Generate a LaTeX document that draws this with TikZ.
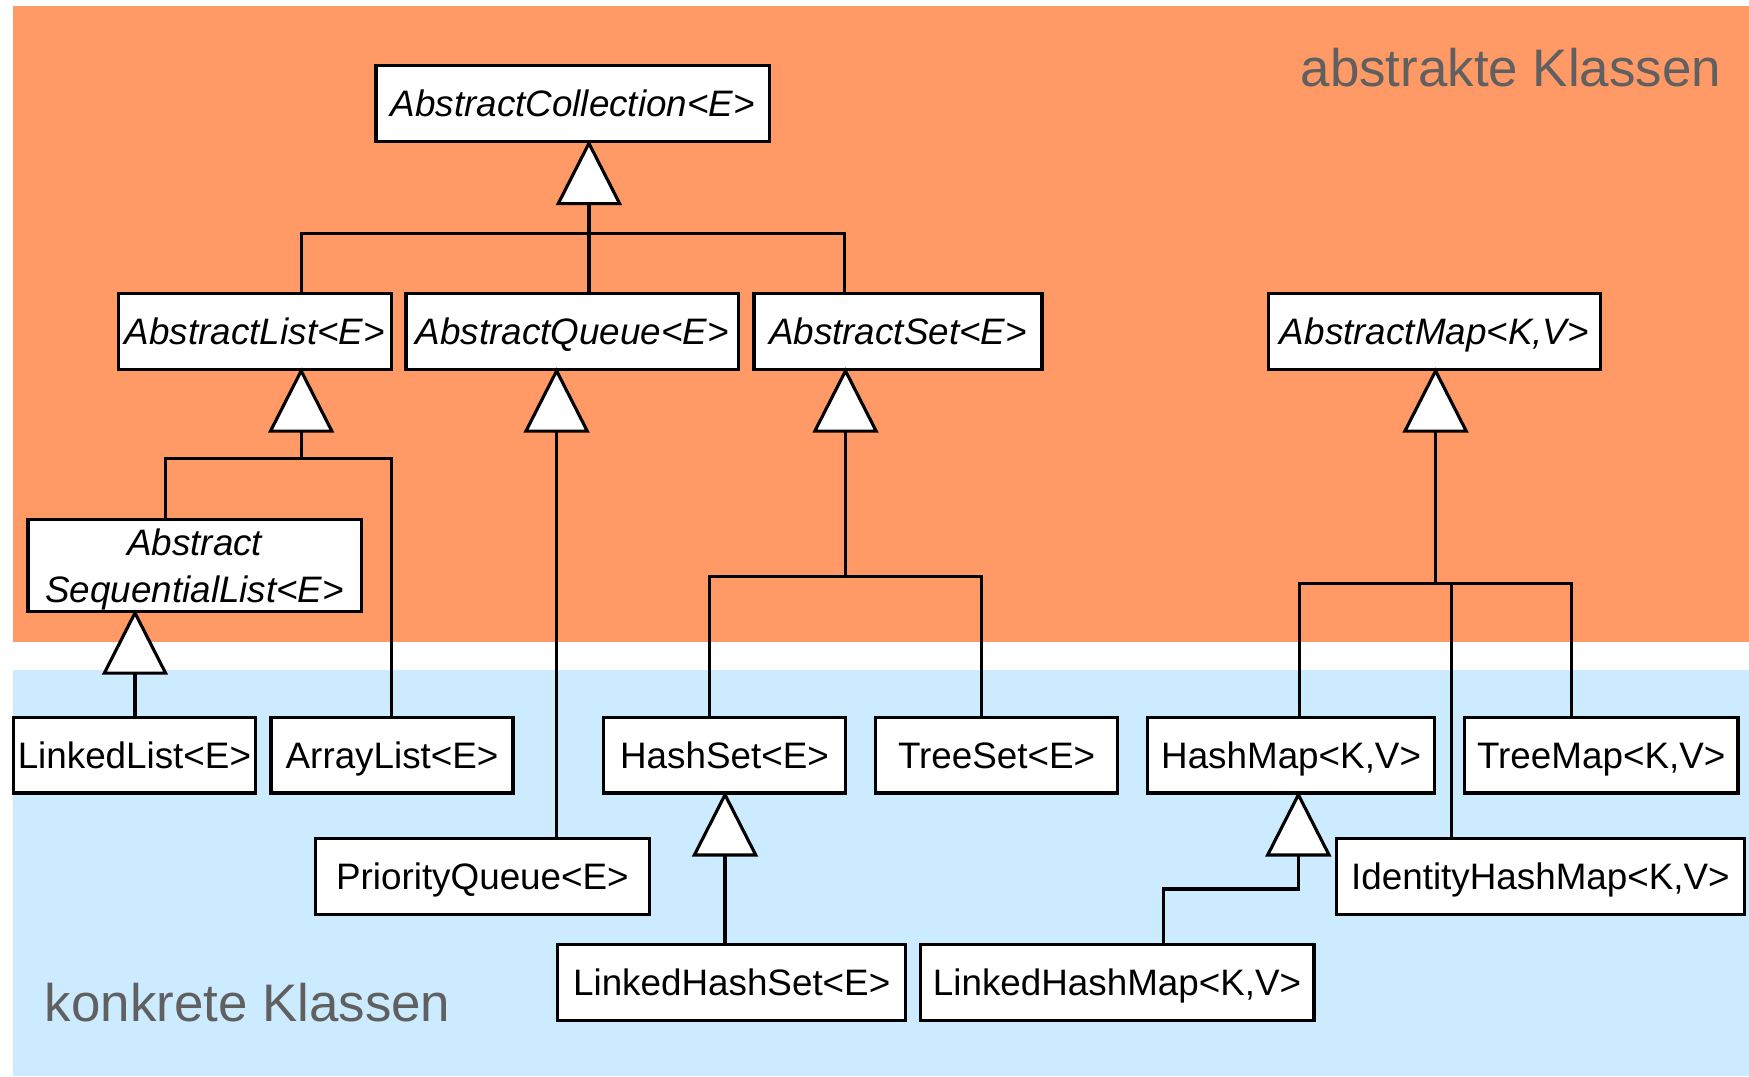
\documentclass[tikz,border=0pt]{standalone}
\usepackage{fontspec}
\setmainfont{Liberation Sans}
\definecolor{abscol}{RGB}{255,153,102}
\definecolor{concol}{RGB}{204,235,255}
\definecolor{labcol}{RGB}{96,96,96}
\tikzset{
  clsbox/.style={draw=black, line width=3pt, fill=white, inner sep=0pt,
    minimum height=68pt, font=\fontsize{33}{42}\selectfont},
  cls/.style={clsbox, text height=23.6pt, text depth=0pt},
  acls/.style={cls, font=\fontsize{33}{42}\selectfont\itshape},
  conn/.style={draw=black, line width=2.8pt, line join=miter},
  tri/.style={draw=black, fill=white, line width=2.8pt, line join=miter},
  region/.style={font=\fontsize{47.4}{56}\selectfont, text=labcol, inner sep=0pt}
}
\newcommand\inhtri[1]{\draw[tri] (#1) -- ++(-27.5,54) -- ++(55,0) -- cycle;}
\begin{document}
\begin{tikzpicture}[x=1pt,y=-1pt]
\useasboundingbox (0,0) rectangle (1568,965);
\fill[white] (0,0) rectangle (1568,965);
\fill[abscol] (12,5) rectangle (1568,576);
\fill[concol] (12,601) rectangle (1568,965);

\node[region, anchor=base east] (labA) at (1543,78) {abstrakte Klassen};
\node[region, anchor=base west] (labK) at (40,916) {konkrete Klassen};

% nodes
\node[acls, minimum width=353pt] (ac) at (513.5,93) {AbstractCollection<E>};
\node[acls, minimum width=245pt] (al) at (228.5,297) {AbstractList<E>};
\node[acls, minimum width=298pt] (aq) at (513,297) {AbstractQueue<E>};
\node[acls, minimum width=258pt] (as) at (805,297) {AbstractSet<E>};
\node[acls, minimum width=298pt] (am) at (1286,297) {AbstractMap<K,V>};
\node[clsbox, font=\fontsize{33}{42}\selectfont\itshape, minimum width=299pt, minimum height=82pt, align=center, text height=66pt, text depth=0pt] (asl) at (174.5,507) {Abstract\\SequentialList<E>};
\node[cls, minimum width=217pt] (ll) at (120.5,677) {LinkedList<E>};
\node[cls, minimum width=217pt] (arl) at (351.5,677) {ArrayList<E>};
\node[cls, minimum width=299pt] (pq) at (432.5,786) {PriorityQueue<E>};
\node[cls, minimum width=217pt] (hs) at (649.5,677) {HashSet<E>};
\node[cls, minimum width=217pt] (ts) at (893.5,677) {TreeSet<E>};
\node[cls, minimum width=312pt] (lhs) at (656,881) {LinkedHashSet<E>};
\node[cls, minimum width=257pt] (hm) at (1157.5,677) {HashMap<K,V>};
\node[cls, minimum width=245pt] (tm) at (1435.5,677) {TreeMap<K,V>};
\node[cls, minimum width=366pt] (ihm) at (1381,786) {IdentityHashMap<K,V>};
\node[cls, minimum width=353pt] (lhm) at (1001.5,881) {LinkedHashMap<K,V>};

% triangle apex coordinates
\coordinate (tac) at (528,0 |- ac.south);
\coordinate (tal) at (270,0 |- al.south);
\coordinate (taq) at (499,0 |- aq.south);
\coordinate (tas) at (758,0 |- as.south);
\coordinate (tam) at (1287,0 |- am.south);
\coordinate (tasl) at (121,0 |- asl.south);
\coordinate (ths) at (650,0 |- hs.south);
\coordinate (thm) at (1164,0 |- hm.south);

% connectors
\draw[conn] (tac) -- (528,0 |- aq.north);
\draw[conn] (270,0 |- al.north) -- (270,209) -- (757,209) -- (757,0 |- as.north);

\draw[conn] (tal) -- (270,411);
\draw[conn] (148,0 |- asl.north) -- (148,411) -- (351,411) -- (351,0 |- arl.north);

\draw[conn] (taq) -- (499,0 |- pq.north);

\draw[conn] (tas) -- (758,517);
\draw[conn] (636,0 |- hs.north) -- (636,517) -- (880,517) -- (880,0 |- ts.north);

\draw[conn] (tam) -- (1287,523);
\draw[conn] (1165,0 |- hm.north) -- (1165,523) -- (1409,523) -- (1409,0 |- tm.north);
\draw[conn] (1301,523) -- (1301,0 |- ihm.north);

\draw[conn] (tasl) -- (121,0 |- ll.north);
\draw[conn] (ths) -- (650,0 |- lhs.north);
\draw[conn] (thm) -- (1164,797) -- (1043,797) -- (1043,0 |- lhm.north);

% triangles
\inhtri{tac}
\inhtri{tal}
\inhtri{taq}
\inhtri{tas}
\inhtri{tam}
\inhtri{tasl}
\inhtri{ths}
\inhtri{thm}
\end{tikzpicture}
\end{document}
